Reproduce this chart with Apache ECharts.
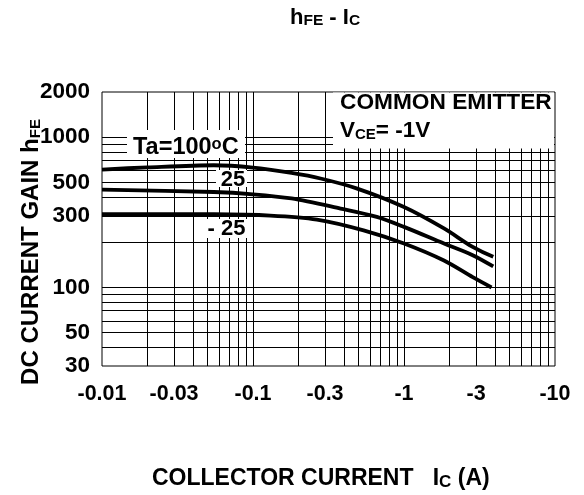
<!DOCTYPE html>
<html><head><meta charset="utf-8">
<script src="https://cdn.jsdelivr.net/npm/echarts@6/dist/echarts.min.js"></script>
<style>html,body{margin:0;padding:0;background:#fff}#c{width:584px;height:495px}</style>
</head><body><div id="c"></div>
<script>
// ---- data ----
const xTickValues = [0.01, 0.03, 0.1, 0.3, 1, 3, 10];
const yTickValues = [30, 50, 100, 300, 500, 1000, 2000];
const xGridValues = [0.02,0.03,0.04,0.05,0.06,0.07,0.08,0.09,0.1,0.2,0.3,0.4,0.5,0.6,0.7,0.8,0.9,1,2,3,4,5,6,7,8,9];
const yGridValues = [40,50,60,70,80,90,100,200,300,400,500,600,700,800,900,1000];

const ic100  = [0.01, 0.02, 0.055, 0.1, 0.18, 0.28, 0.49, 1.0, 1.84, 2.85, 3.9];
const hfe100 = [609, 630, 651, 628, 578, 531, 455, 343, 247, 186, 160];
const ic25   = [0.01, 0.055, 0.1, 0.18, 0.38, 0.66, 1.0, 1.84, 2.85, 3.9];
const hfe25  = [448, 432, 417, 391, 335, 295, 253, 196, 164, 138];
const icM25  = [0.01, 0.055, 0.13, 0.265, 0.54, 1.0, 1.84, 2.85, 3.8];
const hfeM25 = [308, 307, 301, 283, 240, 196, 151, 117, 100];

const FONT = '"Liberation Sans", Arial, Helvetica, sans-serif';
const zip = (a, b) => a.map((v, i) => [v, b[i]]);
const curve = (ic, h) => ({
  type: 'line', data: zip(ic, h), smooth: 0.3, showSymbol: false, z: 10, silent: true,
  lineStyle: { color: '#000', width: 3.8 }, emphasis: { disabled: true }
});
const bold = (size, extra) => Object.assign({ fontFamily: FONT, fontWeight: 'bold', fontSize: size, fill: '#000' }, extra || {});

const chart = echarts.init(document.getElementById('c'), null, { renderer: 'canvas' });
chart.setOption({
  animation: false,
  backgroundColor: '#fff',
  grid: { left: 102, right: 29, top: 92, bottom: 129, show: true, borderColor: '#000', borderWidth: 1, backgroundColor: 'transparent' },
  xAxis: {
    type: 'log', logBase: 10, min: 0.01, max: 10,
    axisLine: { show: false }, axisTick: { show: false }, splitLine: { show: false },
    axisLabel: {
      customValues: xTickValues, margin: 17,
      formatter: v => '-' + (+(+v).toPrecision(3)),
      color: '#000', fontFamily: FONT, fontWeight: 'bold', fontSize: 21.5
    }
  },
  yAxis: {
    type: 'log', logBase: 10, min: 30, max: 2000,
    axisLine: { show: false }, axisTick: { show: false }, splitLine: { show: false },
    axisLabel: {
      customValues: yTickValues, margin: 12,
      formatter: v => String(+(+v).toPrecision(4)),
      color: '#000', fontFamily: FONT, fontWeight: 'bold', fontSize: 22.5
    }
  },
  series: [
    {
      type: 'line', data: [], z: 1, silent: true,
      markLine: {
        silent: true, symbol: ['none', 'none'], label: { show: false }, animation: false,
        lineStyle: { color: '#000', width: 1, type: 'solid' }, emphasis: { disabled: true },
        data: xGridValues.map(v => ({ xAxis: v })).concat(yGridValues.map(v => ({ yAxis: v })))
      }
    },
    curve(ic100, hfe100),
    curve(ic25, hfe25),
    curve(icM25, hfeM25)
  ],
  graphic: [
    { type: 'rect', z: 6, silent: true, shape: { x: 333, y: 92.5, width: 221, height: 56 }, style: { fill: '#fff' } },
    { type: 'rect', z: 6, silent: true, shape: { x: 127, y: 130, width: 118, height: 28 }, style: { fill: '#fff' } },
    { type: 'rect', z: 6, silent: true, shape: { x: 216, y: 170, width: 31, height: 17 }, style: { fill: '#fff' } },
    { type: 'rect', z: 6, silent: true, shape: { x: 205, y: 219, width: 43, height: 19 }, style: { fill: '#fff' } },
    // title
    { type: 'text', z: 7, x: 290, y: 18, style: Object.assign(bold(22), {
        text: '{a|h}{b|FE}{c| - I}{b|C}', verticalAlign: 'middle', align: 'left',
        rich: { a: bold(22, { verticalAlign: 'bottom' }), b: bold(15.5, { verticalAlign: 'bottom' }), c: bold(22, { verticalAlign: 'bottom' }) } }) },
    // y axis title
    { type: 'text', z: 7, x: 31, y: 252, rotation: Math.PI / 2, style: Object.assign(bold(24), {
        text: '{a|DC CURRENT GAIN h}{b|FE}', verticalAlign: 'middle', align: 'center',
        rich: { a: bold(24, { verticalAlign: 'bottom' }), b: bold(15, { verticalAlign: 'bottom' }) } }) },
    // x axis title
    { type: 'text', z: 7, x: 152, y: 479, style: Object.assign(bold(23), {
        text: '{a|COLLECTOR CURRENT   I}{b|C}{a| (A)}', verticalAlign: 'middle', align: 'left',
        rich: { a: bold(23, { verticalAlign: 'bottom' }), b: bold(17, { verticalAlign: 'bottom' }) } }) },
    // annotations
    { type: 'text', z: 7, x: 340, y: 102.5, style: bold(22.7, { text: 'COMMON EMITTER', verticalAlign: 'middle', align: 'left' }) },
    { type: 'text', z: 7, x: 340, y: 130.5, style: Object.assign(bold(22.5), {
        text: '{a|V}{b|CE}{a|= -1V}', verticalAlign: 'middle', align: 'left',
        rich: { a: bold(22.5, { verticalAlign: 'bottom' }), b: bold(15, { verticalAlign: 'bottom' }) } }) },
    { type: 'text', z: 7, x: 133, y: 148, style: Object.assign(bold(23.5), {
        text: '{a|Ta=100}{d|o}{a|C}', verticalAlign: 'middle', align: 'left',
        rich: { a: bold(23.5, { verticalAlign: 'bottom' }), d: bold(16.5, { verticalAlign: 'top' }) } }) },
    { type: 'text', z: 7, x: 233, y: 179.5, style: bold(22, { text: '25', verticalAlign: 'middle', align: 'center' }) },
    { type: 'text', z: 7, x: 226.5, y: 228.5, style: bold(22, { text: '- 25', verticalAlign: 'middle', align: 'center' }) }
  ]
});
</script></body></html>
